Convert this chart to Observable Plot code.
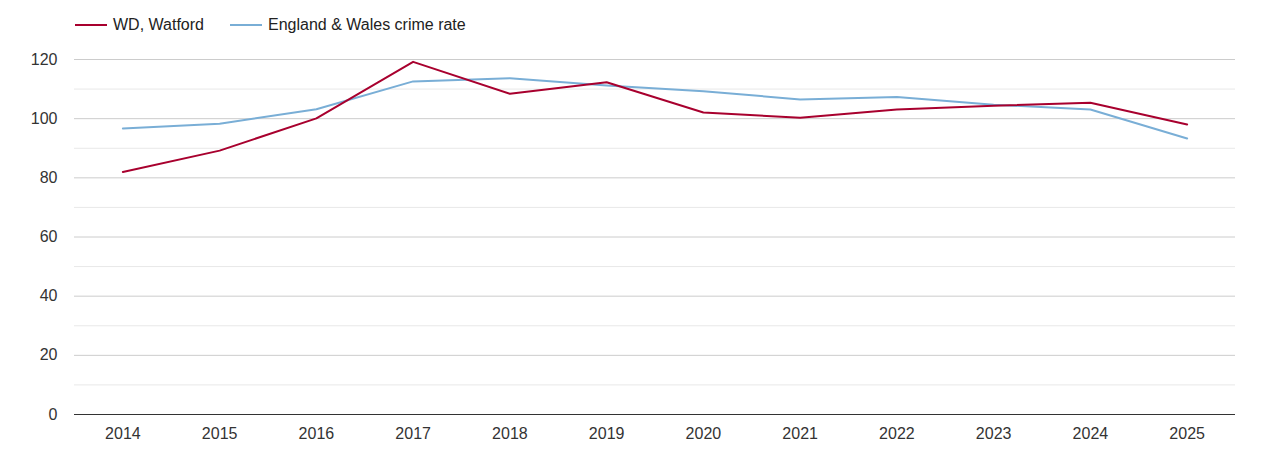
<!DOCTYPE html>
<html><head><meta charset="utf-8">
<script src="https://cdn.jsdelivr.net/npm/d3@7"></script>
<script src="https://cdn.jsdelivr.net/npm/@observablehq/plot@0.6"></script>
<style>
body{margin:0;background:#fff;font-family:"Liberation Sans",Arial,sans-serif;}
#legend{height:48px;position:relative;font-size:16px;color:#222;}
.item{position:absolute;top:16px;display:flex;align-items:center;line-height:18px;}
.sw{width:32px;height:2px;margin-right:6px;}
</style></head>
<body>
<div id="legend"></div>
<div id="chart"></div>
<script>
const years = [2014,2015,2016,2017,2018,2019,2020,2021,2022,2023,2024,2025];
const watford = [82.0,89.2,100.1,119.2,108.4,112.3,102.1,100.3,103.1,104.4,105.4,98.0];
const englandWales = [96.7,98.3,103.2,112.6,113.7,111.2,109.3,106.5,107.3,104.7,103.1,93.3];
const seriesNames = ["WD, Watford","England & Wales crime rate"];
const seriesColors = ["#a8002e","#79aed6"];
const majorTicks = [0,20,40,60,80,100,120];
const minorTicks = [10,30,50,70,90,110];

const legend = document.getElementById("legend");
const lefts = [75,230];
seriesNames.forEach((n,i)=>{
  const d = document.createElement("div");
  d.className="item"; d.style.left=lefts[i]+"px";
  d.innerHTML = `<span class="sw" style="background:${seriesColors[i]}"></span><span>${n}</span>`;
  legend.appendChild(d);
});

const data = [];
years.forEach((y,i)=>{
  data.push({year:String(y), value:watford[i], series:seriesNames[0]});
  data.push({year:String(y), value:englandWales[i], series:seriesNames[1]});
});

const chart = Plot.plot({
  width:1270, height:402,
  marginTop:11, marginBottom:36, marginLeft:74, marginRight:35,
  style:{fontFamily:"'Liberation Sans', Arial, sans-serif", fontSize:"16px", color:"#333"},
  x:{type:"point", domain:years.map(String), padding:0.5, round:false, label:null},
  y:{domain:[0,120], label:null},
  color:{domain:seriesNames, range:seriesColors},
  marks:[
    Plot.ruleY(minorTicks,{stroke:"#e8e8e8", strokeWidth:1}),
    Plot.ruleY(majorTicks.filter(t=>t>0),{stroke:"#cccccc", strokeWidth:1}),
    Plot.axisY(majorTicks,{tickSize:0, tickPadding:17, fontSize:16, fill:"#333", label:null}),
    Plot.axisX({tickSize:0, tickPadding:13, fontSize:16, fill:"#333", label:null}),
    Plot.lineY(data.filter(d=>d.series===seriesNames[1]),{x:"year", y:"value", stroke:"series", strokeWidth:2}),
    Plot.lineY(data.filter(d=>d.series===seriesNames[0]),{x:"year", y:"value", stroke:"series", strokeWidth:2}),
    Plot.ruleY([0],{stroke:"#333", strokeWidth:1})
  ]
});
document.getElementById("chart").appendChild(chart);
</script>
</body></html>
